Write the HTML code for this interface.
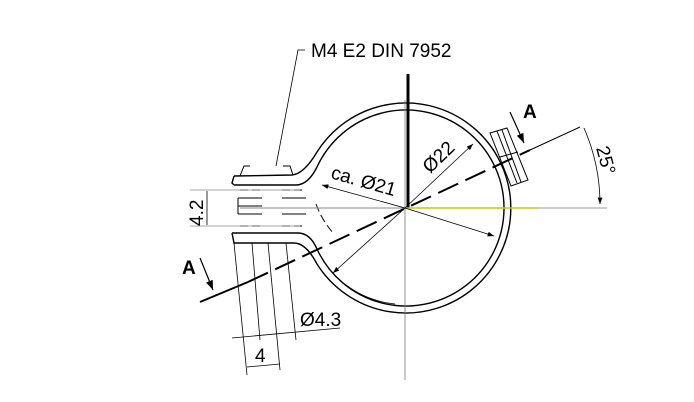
<!DOCTYPE html><html><head><style>body{margin:0;background:#fff}svg{display:block}</style></head><body>
<svg width="694" height="402" viewBox="0 0 694 402" xmlns="http://www.w3.org/2000/svg" font-family="Liberation Sans, sans-serif">
<defs><marker id="a" markerWidth="8" markerHeight="6" refX="8" refY="3" orient="auto"><path d="M0,0L8,3L0,6z" fill="#000"/></marker></defs>
<g fill="none" stroke="#000" stroke-width="1.4">
<path d="M317,152 A105,105 0 1 1 317,264"/>
<path d="M317,167 A98,98 0 1 1 317,249"/>
<path d="M316,204 A90,90 0 0 0 334,234" stroke-dasharray="8,4" stroke-width="1"/>
<path d="M346,285 A98,98 0 0 0 395,304" stroke-width="0.8"/>
<path d="M317,152 Q304,174 292,175 L234,176"/>
<path d="M317,167 Q308,185 296,185 L234,185"/>
<path d="M234,176 L232,183 L234,185"/>
<path d="M317,264 Q306,243 294,243 L234,243 L232,233"/>
<path d="M317,249 Q310,233 298,233 L232,233"/>
<path d="M240,176 L244,166 L250,166 M283,166 L290,166 L293,175" stroke-width="1"/>
<path d="M238,198 L262,198 M238,206 L262,206 M238,214 L262,214 M238,198 L238,214 M282,198 L306,198 M282,214 L306,214" stroke-width="1"/>
<path d="M240,190 L262,190 M282,190 L306,190 M240,226 L262,226 M282,226 L306,226" stroke-width="1" stroke-dasharray="8,4"/>
<path d="M490,133 L507,128 L528,180 L511,186 Z M497,131 L517,183 M502,130 L521,182 M500,157 L518,152" stroke-width="1"/>
</g>
<g stroke="#000" fill="none">
<line x1="408" y1="74" x2="408" y2="208" stroke-width="3"/>
<line x1="405" y1="100" x2="405" y2="380" stroke="#777" stroke-width="0.8"/>
<line x1="240" y1="208" x2="405" y2="208" stroke="#888" stroke-width="1"/>
<line x1="405" y1="208" x2="538" y2="208" stroke="#c8c800" stroke-width="1.5"/>
<line x1="538" y1="208" x2="607" y2="208" stroke="#999" stroke-width="1"/>
<line x1="200" y1="302" x2="248" y2="282" stroke-width="2"/>
<line x1="248" y1="282" x2="530" y2="150" stroke-width="2" stroke-dasharray="22,8"/>
<line x1="530" y1="150" x2="580" y2="127" stroke-width="1"/>
<path d="M200,258 L213,290" stroke-width="1.2" marker-end="url(#a)"/>
<path d="M510,112 L524,143" stroke-width="1.2" marker-end="url(#a)"/>
<path d="M584,128 A190,190 0 0 1 600,204" stroke-width="0.8" marker-end="url(#a)"/>
<line x1="405" y1="208" x2="322" y2="185" stroke-width="0.8" marker-end="url(#a)"/>
<line x1="405" y1="208" x2="473" y2="144" stroke-width="0.8" marker-end="url(#a)"/>
<line x1="405" y1="208" x2="333" y2="273" stroke-width="0.8" marker-end="url(#a)"/>
<line x1="405" y1="208" x2="494" y2="236" stroke-width="0.8" marker-end="url(#a)"/>
<polyline points="305,50 298,50 276,166" stroke-width="0.8"/>
<line x1="190" y1="190" x2="300" y2="190" stroke="#888" stroke-width="0.8"/>
<line x1="190" y1="226" x2="300" y2="226" stroke="#888" stroke-width="0.8"/>
<line x1="207" y1="191" x2="207" y2="225" stroke-width="0.8"/>
<g stroke-width="0.8">
<line x1="234" y1="243" x2="247" y2="375"/>
<line x1="252" y1="243" x2="260" y2="340"/>
<line x1="268" y1="243" x2="280" y2="370"/>
<line x1="286" y1="243" x2="296" y2="340"/>
<line x1="232" y1="338" x2="340" y2="328"/>
<line x1="247" y1="367" x2="280" y2="364"/>
</g>
</g>
<g font-size="19" fill="#000">
<text x="311" y="57">M4 E2 DIN 7952</text>
<text x="330" y="178" transform="rotate(16 330 178)">ca. Ø21</text>
<text x="430" y="174" transform="rotate(-44 430 174)">Ø22</text>
<text x="300" y="326">Ø4.3</text>
<text x="255" y="362">4</text>
<text x="203" y="226" transform="rotate(-90 203 226)">4.2</text>
<text x="596" y="148" transform="rotate(75 596 148)">25°</text>
<text x="182" y="274" font-weight="bold">A</text>
<text x="523" y="118" font-weight="bold">A</text>
</g>
</svg></body></html>
